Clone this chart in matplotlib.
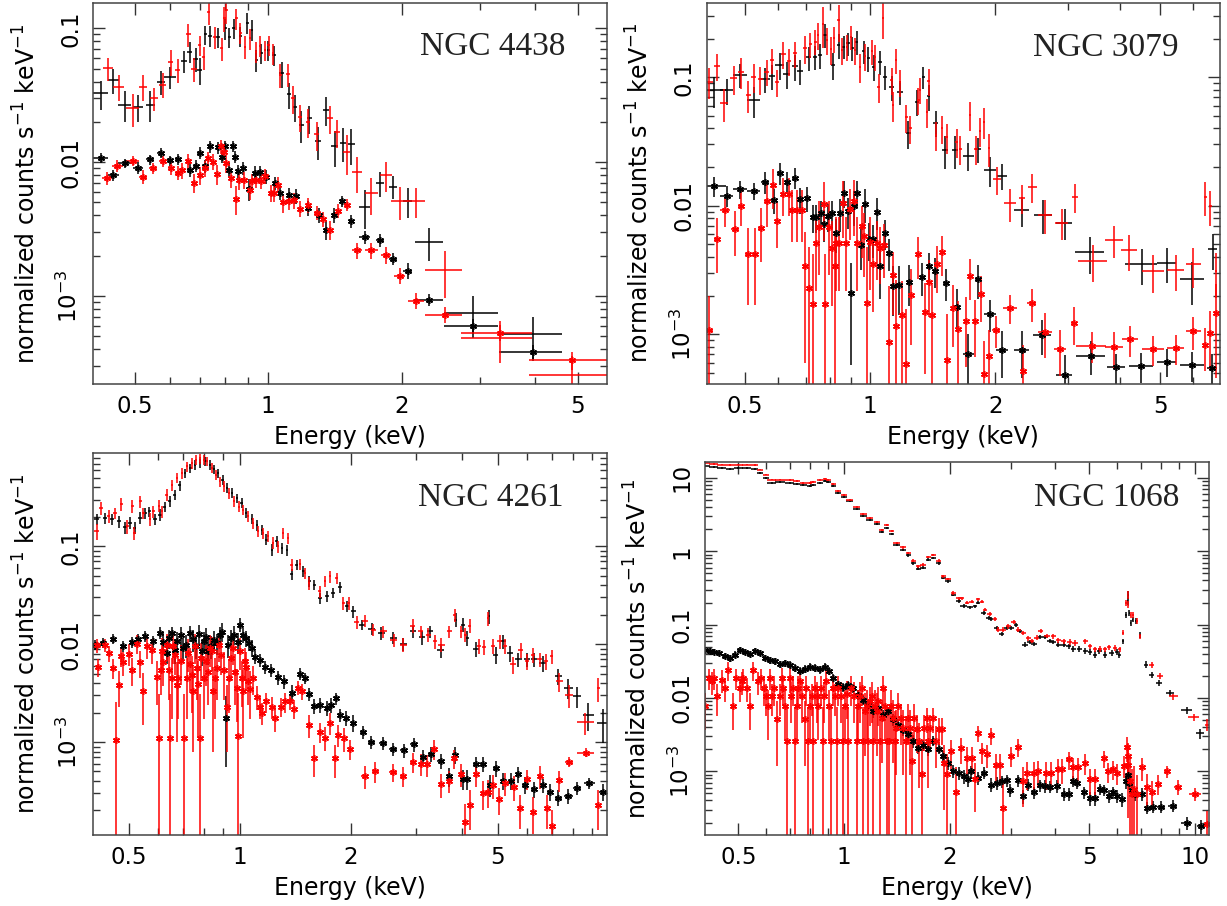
import numpy as np
import matplotlib
matplotlib.use("Agg")
import matplotlib.pyplot as plt
from matplotlib.ticker import FixedLocator, FixedFormatter, LogLocator, NullFormatter

plt.rcParams['font.family'] = 'DejaVu Sans'
plt.rcParams['mathtext.fontset'] = 'dejavusans'

# each row: energy (keV), half bin width, counts, error

# ---------------- NGC 4438 ----------------
n4438_src_blk = [
    [0.419, 0.016, 0.0327, 0.008], [0.447, 0.013, 0.0411, 0.009], [0.475, 0.016, 0.0268, 0.007],
    [0.509, 0.013, 0.0260, 0.006], [0.542, 0.013, 0.0268, 0.007], [0.572, 0.012, 0.0400, 0.008],
    [0.600, 0.018, 0.0435, 0.008], [0.646, 0.010, 0.0570, 0.011], [0.665, 0.008, 0.0670, 0.012],
    [0.686, 0.008, 0.0590, 0.012], [0.700, 0.010, 0.0490, 0.011], [0.722, 0.007, 0.0900, 0.015],
    [0.740, 0.008, 0.0880, 0.016], [0.771, 0.007, 0.0860, 0.015], [0.800, 0.006, 0.1000, 0.018],
    [0.817, 0.006, 0.0860, 0.015], [0.836, 0.006, 0.1000, 0.017], [0.866, 0.006, 0.0870, 0.015],
    [0.898, 0.006, 0.1100, 0.020], [0.920, 0.006, 0.0980, 0.017], [0.940, 0.008, 0.0580, 0.011],
    [0.966, 0.008, 0.0650, 0.011], [1.000, 0.008, 0.0690, 0.012], [1.032, 0.010, 0.0633, 0.011],
    [1.072, 0.012, 0.0461, 0.010], [1.115, 0.012, 0.0321, 0.007], [1.149, 0.012, 0.0260, 0.006],
    [1.189, 0.015, 0.0190, 0.005], [1.238, 0.015, 0.0213, 0.005], [1.297, 0.020, 0.0143, 0.004],
    [1.350, 0.020, 0.0245, 0.006], [1.414, 0.025, 0.0132, 0.004], [1.477, 0.025, 0.0140, 0.004],
    [1.542, 0.030, 0.0136, 0.004], [1.650, 0.045, 0.00466, 0.0015], [1.790, 0.040, 0.00696, 0.0015],
    [1.910, 0.040, 0.00657, 0.0013], [2.065, 0.045, 0.00510, 0.0013], [2.310, 0.170, 0.00252, 0.0007],
    [2.900, 0.410, 0.000745, 0.00026], [3.960, 0.640, 0.000519, 0.00018],
]
n4438_src_red = [
    [0.435, 0.011, 0.0502, 0.010], [0.460, 0.013, 0.0367, 0.008], [0.495, 0.017, 0.0253, 0.007],
    [0.522, 0.012, 0.0367, 0.008], [0.552, 0.012, 0.0300, 0.006], [0.578, 0.010, 0.0380, 0.008],
    [0.603, 0.008, 0.0564, 0.012], [0.625, 0.008, 0.0490, 0.010], [0.661, 0.007, 0.0900, 0.017],
    [0.681, 0.010, 0.0500, 0.010], [0.700, 0.007, 0.0751, 0.013], [0.716, 0.006, 0.0610, 0.012],
    [0.734, 0.005, 0.1318, 0.025], [0.758, 0.006, 0.0857, 0.016], [0.785, 0.006, 0.0710, 0.014],
    [0.797, 0.005, 0.1187, 0.025], [0.805, 0.005, 0.1370, 0.030], [0.848, 0.006, 0.1187, 0.022],
    [0.866, 0.006, 0.0930, 0.017], [0.886, 0.006, 0.0730, 0.014], [0.909, 0.006, 0.0843, 0.015],
    [0.940, 0.006, 0.0669, 0.012], [0.960, 0.006, 0.0740, 0.013], [0.983, 0.006, 0.0690, 0.012],
    [1.003, 0.007, 0.0750, 0.013], [1.026, 0.007, 0.0650, 0.012], [1.066, 0.010, 0.0450, 0.009],
    [1.109, 0.010, 0.0456, 0.009], [1.139, 0.012, 0.0300, 0.007], [1.179, 0.014, 0.0219, 0.005],
    [1.230, 0.015, 0.0201, 0.005], [1.286, 0.017, 0.0161, 0.004], [1.378, 0.020, 0.0213, 0.005],
    [1.431, 0.020, 0.0167, 0.004], [1.503, 0.025, 0.0120, 0.004], [1.585, 0.040, 0.0084, 0.0025],
    [1.710, 0.060, 0.00586, 0.0018], [1.845, 0.055, 0.0080, 0.0020], [1.980, 0.090, 0.0051, 0.0014],
    [2.160, 0.100, 0.0051, 0.0013], [2.505, 0.240, 0.00157, 0.0006], [3.330, 0.600, 0.000484, 0.00017],
    [4.840, 0.970, 0.000255, 0.00010],
]
n4438_bkg_blk = [
    [0.419, 0.016, 0.0108, 0.0010], [0.447, 0.013, 0.0080, 0.0008], [0.475, 0.016, 0.0098, 0.0008],
    [0.509, 0.013, 0.0091, 0.0009], [0.542, 0.012, 0.0105, 0.0009], [0.572, 0.010, 0.0118, 0.0010],
    [0.600, 0.010, 0.0103, 0.0009], [0.627, 0.010, 0.0105, 0.0010], [0.665, 0.008, 0.0088, 0.0010],
    [0.686, 0.008, 0.0094, 0.0010], [0.700, 0.008, 0.0118, 0.0012], [0.722, 0.007, 0.0093, 0.0010],
    [0.738, 0.006, 0.0131, 0.0013], [0.771, 0.006, 0.0129, 0.0013], [0.785, 0.006, 0.0110, 0.0012],
    [0.800, 0.006, 0.0131, 0.0013], [0.814, 0.006, 0.0088, 0.0010], [0.831, 0.006, 0.0132, 0.0013],
    [0.843, 0.006, 0.0110, 0.0012], [0.857, 0.006, 0.0086, 0.0010], [0.878, 0.006, 0.0090, 0.0010],
    [0.905, 0.006, 0.0063, 0.0012], [0.932, 0.007, 0.0083, 0.0010], [0.958, 0.007, 0.0084, 0.0009],
    [0.990, 0.008, 0.0078, 0.0009], [1.035, 0.009, 0.0070, 0.0008], [1.066, 0.009, 0.0059, 0.0007],
    [1.116, 0.010, 0.0057, 0.0007], [1.155, 0.010, 0.0056, 0.0007], [1.230, 0.012, 0.00453, 0.0006],
    [1.300, 0.014, 0.00403, 0.0005], [1.350, 0.015, 0.00312, 0.0005], [1.406, 0.015, 0.00403, 0.0005],
    [1.468, 0.018, 0.0051, 0.0005], [1.542, 0.020, 0.00364, 0.0004], [1.650, 0.045, 0.00275, 0.0003],
    [1.790, 0.040, 0.00262, 0.0003], [1.910, 0.040, 0.00189, 0.0002], [2.065, 0.045, 0.00155, 0.0002],
    [2.310, 0.170, 0.000935, 0.0001], [2.900, 0.410, 0.000598, 0.00008], [3.960, 0.640, 0.000379, 0.00005],
]
n4438_bkg_red = [
    [0.433, 0.012, 0.0076, 0.0009], [0.457, 0.013, 0.0094, 0.0009], [0.495, 0.016, 0.0102, 0.0009],
    [0.522, 0.011, 0.0078, 0.0009], [0.549, 0.011, 0.0090, 0.0009], [0.578, 0.010, 0.0102, 0.0010],
    [0.603, 0.008, 0.0090, 0.0010], [0.625, 0.008, 0.0083, 0.0010], [0.640, 0.007, 0.0087, 0.0012],
    [0.660, 0.007, 0.0102, 0.0013], [0.681, 0.008, 0.0070, 0.0011], [0.700, 0.007, 0.0080, 0.0012],
    [0.719, 0.006, 0.0090, 0.0012], [0.733, 0.006, 0.0107, 0.0013], [0.750, 0.006, 0.0101, 0.0014],
    [0.768, 0.006, 0.0082, 0.0014], [0.782, 0.005, 0.0131, 0.0016], [0.795, 0.005, 0.0120, 0.0016],
    [0.805, 0.005, 0.0098, 0.0015], [0.823, 0.005, 0.0076, 0.0012], [0.844, 0.005, 0.0053, 0.0013],
    [0.860, 0.006, 0.0074, 0.0012], [0.881, 0.006, 0.0074, 0.0011], [0.909, 0.006, 0.0062, 0.0010],
    [0.920, 0.006, 0.0072, 0.0010], [0.940, 0.006, 0.0074, 0.0010], [0.966, 0.007, 0.0072, 0.0009],
    [0.983, 0.007, 0.0079, 0.0010], [1.014, 0.008, 0.0059, 0.0009], [1.032, 0.008, 0.0059, 0.0009],
    [1.053, 0.009, 0.0068, 0.0009], [1.081, 0.010, 0.0050, 0.0008], [1.116, 0.010, 0.0051, 0.0007],
    [1.144, 0.010, 0.0052, 0.0007], [1.179, 0.012, 0.0045, 0.0006], [1.230, 0.013, 0.0048, 0.0006],
    [1.286, 0.014, 0.0042, 0.0005], [1.331, 0.015, 0.00375, 0.0005], [1.378, 0.016, 0.00312, 0.0005],
    [1.439, 0.018, 0.00433, 0.0005], [1.503, 0.020, 0.0048, 0.0005], [1.585, 0.040, 0.00219, 0.0003],
    [1.710, 0.060, 0.00219, 0.0003], [1.845, 0.050, 0.00203, 0.0003], [1.980, 0.060, 0.00142, 0.0002],
    [2.160, 0.090, 0.000925, 0.00013], [2.505, 0.240, 0.000723, 0.0001], [3.330, 0.600, 0.000533, 0.00007],
    [4.840, 0.970, 0.000330, 0.00005],
]

# ---------------- NGC 3079 ----------------
n3079_src_blk = [
    [0.420, 0.030, 0.0790, 0.021], [0.452, 0.016, 0.0790, 0.018], [0.486, 0.018, 0.1040, 0.022],
    [0.524, 0.020, 0.0665, 0.018], [0.559, 0.016, 0.0970, 0.022], [0.580, 0.010, 0.1020, 0.023],
    [0.605, 0.014, 0.1250, 0.030], [0.629, 0.012, 0.1060, 0.025], [0.660, 0.010, 0.1220, 0.028],
    [0.678, 0.010, 0.1120, 0.025], [0.711, 0.010, 0.1430, 0.030], [0.737, 0.008, 0.1450, 0.030],
    [0.758, 0.008, 0.1490, 0.032], [0.779, 0.008, 0.2140, 0.045], [0.813, 0.008, 0.1250, 0.030],
    [0.839, 0.008, 0.1780, 0.038], [0.863, 0.008, 0.1730, 0.035], [0.884, 0.008, 0.1840, 0.038],
    [0.905, 0.008, 0.1700, 0.035], [0.929, 0.008, 0.1900, 0.040], [0.964, 0.010, 0.1590, 0.033],
    [0.990, 0.010, 0.1410, 0.030], [1.019, 0.010, 0.1210, 0.027], [1.057, 0.012, 0.1325, 0.028],
    [1.087, 0.012, 0.1010, 0.022], [1.127, 0.015, 0.0837, 0.018], [1.181, 0.018, 0.0774, 0.017],
    [1.236, 0.018, 0.0366, 0.009], [1.296, 0.015, 0.0646, 0.015], [1.344, 0.012, 0.1010, 0.020],
    [1.382, 0.015, 0.0710, 0.016], [1.440, 0.020, 0.0444, 0.010], [1.516, 0.025, 0.0272, 0.008],
    [1.600, 0.030, 0.0272, 0.008], [1.725, 0.050, 0.0246, 0.006], [1.823, 0.030, 0.0277, 0.006],
    [1.945, 0.060, 0.0190, 0.005], [2.075, 0.060, 0.0172, 0.004], [2.318, 0.100, 0.0093, 0.0025],
    [2.614, 0.130, 0.0085, 0.0025], [2.940, 0.130, 0.0074, 0.0020], [3.390, 0.270, 0.00435, 0.0014],
    [4.510, 0.400, 0.00351, 0.0011], [5.180, 0.280, 0.00361, 0.0011], [5.960, 0.400, 0.00268, 0.0010],
    [6.680, 0.170, 0.00459, 0.0014],
]
n3079_src_red = [
    [0.410, 0.008, 0.0925, 0.025], [0.428, 0.008, 0.1230, 0.030], [0.444, 0.010, 0.0628, 0.018],
    [0.469, 0.010, 0.0980, 0.025], [0.489, 0.008, 0.1110, 0.030], [0.509, 0.008, 0.0730, 0.020],
    [0.524, 0.007, 0.1010, 0.025], [0.544, 0.007, 0.0970, 0.024], [0.564, 0.008, 0.1110, 0.025],
    [0.580, 0.006, 0.1360, 0.030], [0.597, 0.006, 0.0925, 0.022], [0.618, 0.008, 0.1520, 0.035],
    [0.636, 0.007, 0.1340, 0.032], [0.660, 0.008, 0.1540, 0.035], [0.696, 0.007, 0.1680, 0.040],
    [0.717, 0.006, 0.1810, 0.040], [0.737, 0.006, 0.1900, 0.042], [0.750, 0.005, 0.2140, 0.050],
    [0.770, 0.005, 0.2600, 0.090], [0.787, 0.005, 0.1950, 0.045], [0.805, 0.005, 0.1650, 0.040],
    [0.820, 0.005, 0.2010, 0.045], [0.839, 0.005, 0.2790, 0.090], [0.855, 0.005, 0.1640, 0.040],
    [0.879, 0.006, 0.1730, 0.040], [0.900, 0.006, 0.2070, 0.045], [0.920, 0.006, 0.1640, 0.040],
    [0.946, 0.006, 0.1210, 0.030], [0.973, 0.006, 0.1470, 0.035], [1.010, 0.007, 0.1590, 0.035],
    [1.028, 0.007, 0.1450, 0.032], [1.048, 0.007, 0.0846, 0.022], [1.073, 0.006, 0.2900, 0.090],
    [1.127, 0.008, 0.0954, 0.022], [1.134, 0.008, 0.0610, 0.016], [1.155, 0.008, 0.1360, 0.030],
    [1.181, 0.008, 0.0925, 0.022], [1.222, 0.008, 0.0489, 0.012], [1.250, 0.008, 0.0401, 0.010],
    [1.307, 0.008, 0.0667, 0.016], [1.320, 0.008, 0.0800, 0.018], [1.370, 0.008, 0.0540, 0.014],
    [1.382, 0.008, 0.0936, 0.022], [1.440, 0.010, 0.0356, 0.009], [1.488, 0.010, 0.0401, 0.010],
    [1.530, 0.012, 0.0345, 0.009], [1.615, 0.015, 0.0316, 0.008], [1.650, 0.010, 0.0277, 0.007],
    [1.740, 0.012, 0.0509, 0.013], [1.800, 0.020, 0.0277, 0.007], [1.840, 0.012, 0.0385, 0.010],
    [1.880, 0.010, 0.0452, 0.012], [1.930, 0.010, 0.0280, 0.008], [2.020, 0.045, 0.0161, 0.004],
    [2.173, 0.075, 0.0105, 0.003], [2.318, 0.040, 0.0116, 0.003], [2.460, 0.060, 0.0141, 0.0035],
    [2.640, 0.100, 0.0085, 0.0025], [2.894, 0.100, 0.0074, 0.0020], [3.116, 0.050, 0.0118, 0.0030],
    [3.440, 0.280, 0.00374, 0.0012], [3.870, 0.200, 0.00542, 0.0015], [4.210, 0.180, 0.00453, 0.0014],
    [4.810, 0.300, 0.00311, 0.0010], [5.450, 0.250, 0.00317, 0.0010], [6.000, 0.250, 0.00351, 0.0012],
    [6.410, 0.050, 0.0118, 0.0035], [6.590, 0.050, 0.00997, 0.003], [6.810, 0.050, 0.0031, 0.0012],
]
n3079_bkg_blk = [
    [0.420, 0.030, 0.0143, 0.0025], [0.452, 0.016, 0.0120, 0.0022], [0.486, 0.018, 0.0135, 0.0022],
    [0.524, 0.020, 0.0131, 0.0020], [0.559, 0.012, 0.0154, 0.0030], [0.585, 0.010, 0.0111, 0.0025],
    [0.607, 0.010, 0.0181, 0.0035], [0.632, 0.010, 0.0154, 0.0030], [0.658, 0.010, 0.0166, 0.0030],
    [0.678, 0.008, 0.0112, 0.0025], [0.704, 0.008, 0.0115, 0.0025], [0.727, 0.006, 0.00814, 0.002],
    [0.742, 0.006, 0.00814, 0.002], [0.760, 0.006, 0.00875, 0.0022], [0.776, 0.006, 0.0072, 0.002],
    [0.790, 0.006, 0.0083, 0.002], [0.808, 0.006, 0.00875, 0.0022], [0.828, 0.006, 0.0061, 0.0018],
    [0.847, 0.006, 0.0088, 0.0025], [0.866, 0.006, 0.0126, 0.003], [0.885, 0.006, 0.00906, 0.0025],
    [0.900, 0.006, 0.00208, 0.0015], [0.915, 0.006, 0.0100, 0.003], [0.932, 0.006, 0.0126, 0.003],
    [0.949, 0.006, 0.00495, 0.0018], [0.973, 0.006, 0.0104, 0.003], [0.996, 0.006, 0.0055, 0.0018],
    [1.015, 0.006, 0.0055, 0.0016], [1.037, 0.007, 0.0090, 0.0025], [1.057, 0.007, 0.00338, 0.0015],
    [1.087, 0.008, 0.0061, 0.0016], [1.113, 0.008, 0.0043, 0.0012], [1.138, 0.010, 0.00238, 0.0010],
    [1.176, 0.012, 0.0024, 0.0010], [1.243, 0.015, 0.00257, 0.0009], [1.332, 0.015, 0.0028, 0.0008],
    [1.382, 0.012, 0.0034, 0.0009], [1.434, 0.015, 0.0031, 0.0008], [1.520, 0.020, 0.0025, 0.0007],
    [1.615, 0.025, 0.00164, 0.0006], [1.725, 0.050, 0.000703, 0.0003], [1.823, 0.030, 0.00268, 0.0008],
    [1.945, 0.060, 0.00144, 0.0004], [2.080, 0.070, 0.000755, 0.0003], [2.318, 0.100, 0.000755, 0.0003],
    [2.600, 0.130, 0.000988, 0.0003], [2.940, 0.130, 0.000483, 0.0002], [3.410, 0.270, 0.000678, 0.0002],
    [3.910, 0.200, 0.000553, 0.00015], [4.490, 0.300, 0.000566, 0.00015], [5.180, 0.280, 0.000612, 0.00015],
    [5.960, 0.400, 0.000577, 0.00015], [6.660, 0.170, 0.000550, 0.00015],
]
n3079_bkg_red = [
    [0.410, 0.008, 0.00108, 0.0009], [0.428, 0.008, 0.00548, 0.0025], [0.448, 0.012, 0.00928, 0.0025],
    [0.472, 0.010, 0.00655, 0.0025], [0.489, 0.008, 0.0100, 0.003], [0.507, 0.008, 0.00418, 0.0025],
    [0.527, 0.008, 0.00418, 0.0025], [0.546, 0.008, 0.00668, 0.003], [0.564, 0.008, 0.0108, 0.004],
    [0.583, 0.006, 0.0145, 0.005], [0.598, 0.006, 0.00768, 0.003], [0.618, 0.008, 0.0124, 0.004],
    [0.636, 0.007, 0.0124, 0.004], [0.648, 0.006, 0.0092, 0.004], [0.668, 0.006, 0.0092, 0.004],
    [0.686, 0.006, 0.0092, 0.004], [0.698, 0.006, 0.0034, 0.0028], [0.714, 0.006, 0.00228, 0.0025],
    [0.730, 0.006, 0.00172, 0.0025], [0.741, 0.005, 0.00516, 0.003], [0.753, 0.005, 0.00688, 0.004],
    [0.772, 0.005, 0.0103, 0.005], [0.779, 0.005, 0.00172, 0.0025], [0.794, 0.005, 0.00688, 0.004],
    [0.808, 0.005, 0.00465, 0.003], [0.823, 0.005, 0.0034, 0.003], [0.826, 0.005, 0.00516, 0.003],
    [0.843, 0.005, 0.00516, 0.003], [0.859, 0.005, 0.0106, 0.005], [0.876, 0.005, 0.00516, 0.003],
    [0.892, 0.005, 0.00945, 0.004], [0.914, 0.005, 0.0108, 0.005], [0.930, 0.005, 0.00516, 0.003],
    [0.955, 0.006, 0.0069, 0.003], [0.964, 0.006, 0.00581, 0.003], [0.982, 0.006, 0.00174, 0.003],
    [1.000, 0.006, 0.0052, 0.003], [1.015, 0.006, 0.0035, 0.002], [1.037, 0.006, 0.00516, 0.0025],
    [1.057, 0.006, 0.00465, 0.0022], [1.080, 0.006, 0.00495, 0.0022], [1.107, 0.006, 0.000877, 0.0015],
    [1.132, 0.006, 0.0029, 0.0015], [1.155, 0.006, 0.00116, 0.0015], [1.192, 0.006, 0.00141, 0.0012],
    [1.222, 0.006, 0.000584, 0.001], [1.253, 0.008, 0.00202, 0.0012], [1.307, 0.008, 0.00418, 0.0015],
    [1.357, 0.008, 0.00149, 0.001], [1.388, 0.008, 0.00257, 0.0012], [1.407, 0.008, 0.00141, 0.001],
    [1.447, 0.008, 0.0035, 0.0014], [1.488, 0.008, 0.00435, 0.0015], [1.530, 0.008, 0.000631, 0.0008],
    [1.587, 0.010, 0.0016, 0.0008], [1.630, 0.010, 0.0011, 0.0007], [1.700, 0.010, 0.00126, 0.0007],
    [1.740, 0.012, 0.00284, 0.0010], [1.790, 0.012, 0.00126, 0.0006], [1.850, 0.012, 0.00204, 0.0008],
    [1.880, 0.010, 0.000487, 0.0004], [1.930, 0.015, 0.00068, 0.0004], [2.010, 0.045, 0.00108, 0.0003],
    [2.173, 0.080, 0.00161, 0.0004], [2.330, 0.020, 0.00052, 0.0003], [2.450, 0.060, 0.00175, 0.0005],
    [2.640, 0.100, 0.00105, 0.0004], [2.870, 0.100, 0.00077, 0.0003], [3.100, 0.050, 0.00123, 0.0004],
    [3.420, 0.280, 0.000817, 0.00022], [3.870, 0.200, 0.000795, 0.00025], [4.230, 0.180, 0.000919, 0.00025],
    [4.810, 0.300, 0.00077, 0.0002], [5.450, 0.250, 0.00078, 0.0002], [6.000, 0.250, 0.00106, 0.0003],
    [6.410, 0.050, 0.00082, 0.0003], [6.580, 0.050, 0.00103, 0.0005], [6.810, 0.050, 0.00146, 0.0010],
]

# ---------------- NGC 4261 ----------------
n4261_src_blk = [
    [0.409, 0.006, 0.190, 0.025], [0.430, 0.006, 0.193, 0.025], [0.449, 0.006, 0.190, 0.025],
    [0.470, 0.006, 0.180, 0.025], [0.488, 0.006, 0.157, 0.022], [0.502, 0.006, 0.173, 0.024],
    [0.518, 0.006, 0.154, 0.022], [0.536, 0.006, 0.196, 0.026], [0.553, 0.006, 0.219, 0.028],
    [0.568, 0.006, 0.227, 0.028], [0.588, 0.006, 0.190, 0.025], [0.607, 0.006, 0.210, 0.028],
    [0.626, 0.006, 0.254, 0.032], [0.645, 0.006, 0.288, 0.035], [0.666, 0.006, 0.337, 0.040],
    [0.687, 0.006, 0.420, 0.050], [0.709, 0.006, 0.561, 0.060], [0.733, 0.006, 0.631, 0.070],
    [0.755, 0.006, 0.680, 0.075], [0.779, 0.006, 0.705, 0.075], [0.804, 0.006, 0.739, 0.080],
    [0.829, 0.006, 0.680, 0.075], [0.850, 0.006, 0.610, 0.065], [0.873, 0.006, 0.561, 0.060],
    [0.897, 0.006, 0.479, 0.055], [0.920, 0.006, 0.394, 0.045], [0.949, 0.006, 0.350, 0.040],
    [0.980, 0.007, 0.310, 0.036], [1.010, 0.007, 0.280, 0.032], [1.040, 0.007, 0.219, 0.026],
    [1.075, 0.007, 0.190, 0.023], [1.110, 0.008, 0.165, 0.020], [1.145, 0.008, 0.147, 0.018],
    [1.180, 0.008, 0.117, 0.015], [1.220, 0.008, 0.092, 0.013], [1.257, 0.009, 0.112, 0.014],
    [1.300, 0.009, 0.096, 0.012], [1.340, 0.010, 0.092, 0.012], [1.380, 0.012, 0.052, 0.007],
    [1.425, 0.012, 0.065, 0.008], [1.485, 0.012, 0.0555, 0.007], [1.540, 0.015, 0.044, 0.006],
    [1.590, 0.015, 0.0405, 0.005], [1.650, 0.020, 0.0296, 0.004], [1.725, 0.020, 0.031, 0.004],
    [1.790, 0.020, 0.0335, 0.004], [1.866, 0.020, 0.038, 0.005], [1.947, 0.025, 0.0243, 0.003],
    [2.030, 0.030, 0.0216, 0.003], [2.140, 0.040, 0.0158, 0.002], [2.276, 0.050, 0.0143, 0.002],
    [2.420, 0.050, 0.0130, 0.002], [2.606, 0.060, 0.01156, 0.0016], [2.773, 0.060, 0.0101, 0.0015],
    [2.950, 0.050, 0.0135, 0.002], [3.110, 0.060, 0.0117, 0.0018], [3.270, 0.060, 0.0135, 0.002],
    [3.500, 0.080, 0.0087, 0.0014], [3.850, 0.040, 0.0178, 0.003], [4.030, 0.050, 0.0158, 0.0025],
    [4.140, 0.050, 0.0116, 0.002], [4.360, 0.080, 0.0089, 0.0015], [4.740, 0.040, 0.0192, 0.003],
    [4.940, 0.080, 0.0078, 0.0015], [5.180, 0.080, 0.0107, 0.0018], [5.400, 0.100, 0.0081, 0.0015],
    [5.690, 0.120, 0.0070, 0.0012], [6.000, 0.120, 0.0070, 0.0012], [6.270, 0.120, 0.0070, 0.0012],
    [6.620, 0.150, 0.00643, 0.0012], [7.300, 0.150, 0.00469, 0.0009], [7.780, 0.200, 0.00356, 0.0008],
    [8.190, 0.200, 0.00293, 0.0007], [8.800, 0.300, 0.0019, 0.0006], [9.640, 0.350, 0.00157, 0.0006],
]
n4261_src_red = [
    [0.409, 0.006, 0.142, 0.025], [0.420, 0.005, 0.246, 0.035], [0.440, 0.005, 0.204, 0.030],
    [0.458, 0.005, 0.219, 0.030], [0.477, 0.005, 0.270, 0.040], [0.495, 0.005, 0.160, 0.025],
    [0.510, 0.005, 0.259, 0.040], [0.517, 0.005, 0.137, 0.022], [0.536, 0.005, 0.288, 0.040],
    [0.547, 0.005, 0.219, 0.030], [0.570, 0.005, 0.190, 0.028], [0.582, 0.005, 0.228, 0.032],
    [0.603, 0.005, 0.260, 0.035], [0.614, 0.005, 0.228, 0.032], [0.633, 0.005, 0.337, 0.045],
    [0.653, 0.005, 0.420, 0.055], [0.675, 0.005, 0.500, 0.060], [0.696, 0.005, 0.561, 0.070],
    [0.717, 0.005, 0.655, 0.080], [0.740, 0.005, 0.705, 0.085], [0.760, 0.005, 0.760, 0.090],
    [0.779, 0.005, 0.790, 0.095], [0.800, 0.005, 0.760, 0.090], [0.816, 0.005, 0.739, 0.085],
    [0.838, 0.005, 0.631, 0.075], [0.860, 0.005, 0.540, 0.065], [0.880, 0.005, 0.461, 0.055],
    [0.903, 0.005, 0.410, 0.050], [0.936, 0.006, 0.350, 0.045], [0.963, 0.006, 0.288, 0.036],
    [0.992, 0.006, 0.255, 0.032], [1.021, 0.006, 0.237, 0.030], [1.053, 0.006, 0.204, 0.026],
    [1.087, 0.007, 0.173, 0.022], [1.121, 0.007, 0.142, 0.019], [1.157, 0.007, 0.137, 0.018],
    [1.194, 0.008, 0.126, 0.016], [1.231, 0.008, 0.108, 0.015], [1.270, 0.008, 0.100, 0.014],
    [1.311, 0.008, 0.137, 0.018], [1.352, 0.008, 0.1216, 0.016], [1.380, 0.010, 0.0649, 0.009],
    [1.455, 0.012, 0.066, 0.009], [1.500, 0.012, 0.0535, 0.007], [1.540, 0.012, 0.042, 0.006],
    [1.645, 0.015, 0.0347, 0.005], [1.700, 0.015, 0.044, 0.006], [1.754, 0.015, 0.0495, 0.007],
    [1.830, 0.020, 0.0474, 0.006], [1.907, 0.020, 0.0262, 0.004], [1.970, 0.020, 0.0262, 0.004],
    [2.073, 0.030, 0.0167, 0.0025], [2.180, 0.040, 0.0173, 0.0025], [2.300, 0.040, 0.0141, 0.002],
    [2.450, 0.050, 0.0135, 0.002], [2.610, 0.060, 0.0111, 0.0017], [2.770, 0.060, 0.0099, 0.0016],
    [2.940, 0.040, 0.0155, 0.0025], [3.090, 0.050, 0.0135, 0.002], [3.240, 0.050, 0.0125, 0.002],
    [3.380, 0.050, 0.0107, 0.0018], [3.520, 0.070, 0.0099, 0.0016], [3.700, 0.050, 0.0135, 0.002],
    [3.820, 0.030, 0.0197, 0.003], [3.980, 0.040, 0.0135, 0.002], [4.080, 0.040, 0.0125, 0.002],
    [4.200, 0.040, 0.0154, 0.0025], [4.450, 0.060, 0.0096, 0.0016], [4.600, 0.060, 0.0094, 0.0016],
    [4.720, 0.030, 0.0183, 0.003], [4.870, 0.060, 0.0096, 0.0016], [5.060, 0.070, 0.0107, 0.0018],
    [5.240, 0.070, 0.0096, 0.0016], [5.490, 0.100, 0.0062, 0.0012], [5.770, 0.080, 0.0088, 0.0015],
    [6.000, 0.080, 0.0067, 0.0012], [6.250, 0.080, 0.0078, 0.0014], [6.510, 0.100, 0.0070, 0.0012],
    [6.760, 0.100, 0.0067, 0.0012], [7.000, 0.080, 0.0075, 0.0013], [7.350, 0.150, 0.00417, 0.0009],
    [7.800, 0.200, 0.00305, 0.0008], [8.650, 0.450, 0.00159, 0.0004], [9.370, 0.100, 0.00356, 0.0010],
]
n4261_bkg_blk = [
    [0.405, 0.006, 0.0099, 0.0012], [0.426, 0.006, 0.0103, 0.0012], [0.453, 0.006, 0.0114, 0.0014],
    [0.483, 0.006, 0.0095, 0.0012], [0.508, 0.006, 0.0104, 0.0013], [0.530, 0.006, 0.0114, 0.0014],
    [0.553, 0.006, 0.0120, 0.0015], [0.582, 0.006, 0.0107, 0.0015], [0.607, 0.006, 0.0130, 0.0018],
    [0.620, 0.005, 0.0105, 0.0025], [0.633, 0.006, 0.0082, 0.0020], [0.640, 0.005, 0.0115, 0.0025],
    [0.653, 0.006, 0.0130, 0.0020], [0.665, 0.005, 0.0088, 0.0025], [0.675, 0.006, 0.0107, 0.0025],
    [0.690, 0.005, 0.0123, 0.0028], [0.700, 0.006, 0.0091, 0.0025], [0.715, 0.005, 0.0098, 0.0025],
    [0.733, 0.006, 0.0130, 0.0025], [0.745, 0.005, 0.0112, 0.0028], [0.760, 0.006, 0.0095, 0.0025],
    [0.775, 0.005, 0.0128, 0.0030], [0.790, 0.005, 0.0085, 0.0025], [0.800, 0.006, 0.0107, 0.0025],
    [0.810, 0.005, 0.0118, 0.0028], [0.820, 0.006, 0.0086, 0.0025], [0.835, 0.005, 0.0096, 0.0025],
    [0.850, 0.006, 0.0110, 0.0025], [0.865, 0.005, 0.0103, 0.0025], [0.880, 0.006, 0.0125, 0.0025],
    [0.895, 0.005, 0.0134, 0.0030], [0.916, 0.006, 0.00176, 0.0012], [0.930, 0.005, 0.0098, 0.0025],
    [0.948, 0.006, 0.0116, 0.0025], [0.965, 0.005, 0.0125, 0.0028], [0.985, 0.005, 0.0105, 0.0025],
    [1.000, 0.006, 0.0158, 0.0025], [1.020, 0.006, 0.0125, 0.0022], [1.040, 0.006, 0.0115, 0.0022],
    [1.060, 0.007, 0.0103, 0.0018], [1.080, 0.006, 0.0092, 0.0018],
    [1.098, 0.007, 0.0074, 0.0012], [1.130, 0.008, 0.00687, 0.0010], [1.170, 0.008, 0.0058, 0.0009],
    [1.210, 0.008, 0.0054, 0.0008], [1.270, 0.010, 0.00457, 0.0007], [1.320, 0.010, 0.00417, 0.0007],
    [1.380, 0.010, 0.0032, 0.0006], [1.455, 0.012, 0.0050, 0.0007], [1.500, 0.012, 0.0045, 0.0006],
    [1.540, 0.012, 0.0031, 0.0005], [1.590, 0.015, 0.00233, 0.0004], [1.650, 0.015, 0.0024, 0.0004],
    [1.720, 0.015, 0.00223, 0.0004], [1.770, 0.015, 0.0024, 0.0004], [1.820, 0.015, 0.0028, 0.0004],
    [1.870, 0.015, 0.0019, 0.0003], [1.940, 0.020, 0.00176, 0.0003], [2.030, 0.030, 0.00158, 0.0003],
    [2.150, 0.040, 0.00127, 0.0002], [2.270, 0.050, 0.00099, 0.00015], [2.440, 0.060, 0.00097, 0.00015],
    [2.600, 0.060, 0.00085, 0.00013], [2.780, 0.060, 0.00082, 0.00013], [2.960, 0.060, 0.00095, 0.00015],
    [3.140, 0.060, 0.00071, 0.00012], [3.300, 0.060, 0.00075, 0.00013], [3.500, 0.070, 0.00064, 0.00011],
    [3.700, 0.050, 0.000446, 0.0001], [3.840, 0.050, 0.00074, 0.00015], [4.030, 0.050, 0.00042, 0.0001],
    [4.140, 0.050, 0.00042, 0.0001], [4.360, 0.080, 0.00060, 0.00011], [4.570, 0.080, 0.00060, 0.00011],
    [4.760, 0.060, 0.000366, 0.00009], [4.940, 0.080, 0.00054, 0.0001], [5.180, 0.080, 0.00040, 0.00008],
    [5.430, 0.100, 0.00040, 0.00008], [5.690, 0.100, 0.00047, 0.00009], [5.930, 0.100, 0.000366, 0.00007],
    [6.270, 0.120, 0.00033, 0.00006], [6.620, 0.120, 0.00036, 0.00006], [6.930, 0.120, 0.00031, 0.00006],
    [7.300, 0.150, 0.00027, 0.00005], [7.780, 0.200, 0.00028, 0.00005], [8.220, 0.200, 0.00034, 0.00005],
    [8.860, 0.300, 0.00038, 0.00005], [9.670, 0.250, 0.00031, 0.00006],
]
n4261_bkg_red = [
    [0.409, 0.005, 0.0097, 0.0015], [0.413, 0.005, 0.0058, 0.0012], [0.430, 0.005, 0.0099, 0.0015],
    [0.440, 0.005, 0.0081, 0.0015], [0.453, 0.005, 0.0057, 0.0013], [0.460, 0.005, 0.00105, 0.0015],
    [0.470, 0.005, 0.0038, 0.0015], [0.477, 0.005, 0.0076, 0.0018], [0.483, 0.005, 0.0065, 0.0018],
    [0.500, 0.005, 0.0080, 0.0020], [0.510, 0.005, 0.0055, 0.0018], [0.525, 0.005, 0.0101, 0.0022],
    [0.535, 0.005, 0.0065, 0.0020], [0.547, 0.005, 0.0033, 0.0018], [0.560, 0.005, 0.0095, 0.0025],
    [0.577, 0.005, 0.0088, 0.0025], [0.597, 0.005, 0.0046, 0.0022], [0.603, 0.005, 0.0011, 0.0020],
    [0.609, 0.005, 0.0055, 0.0025], [0.615, 0.004, 0.0085, 0.0030], [0.620, 0.005, 0.0065, 0.0028],
    [0.635, 0.005, 0.0097, 0.0030], [0.640, 0.004, 0.0055, 0.0028], [0.645, 0.005, 0.0011, 0.0020],
    [0.653, 0.005, 0.0045, 0.0028], [0.660, 0.004, 0.0095, 0.0032], [0.665, 0.005, 0.0078, 0.0030],
    [0.675, 0.004, 0.0038, 0.0028], [0.680, 0.005, 0.0045, 0.0028], [0.690, 0.004, 0.0068, 0.0030],
    [0.706, 0.005, 0.0011, 0.0020], [0.717, 0.005, 0.0045, 0.0028], [0.725, 0.004, 0.0082, 0.0030],
    [0.733, 0.005, 0.0062, 0.0030], [0.740, 0.004, 0.0048, 0.0028], [0.746, 0.005, 0.0033, 0.0025],
    [0.755, 0.004, 0.0095, 0.0032], [0.763, 0.005, 0.0057, 0.0030], [0.770, 0.004, 0.0039, 0.0028],
    [0.779, 0.005, 0.0011, 0.0020], [0.785, 0.004, 0.0072, 0.0030], [0.797, 0.005, 0.0045, 0.0028],
    [0.810, 0.005, 0.0067, 0.0030], [0.820, 0.004, 0.0052, 0.0028], [0.829, 0.005, 0.0091, 0.0032],
    [0.840, 0.004, 0.0085, 0.0032], [0.847, 0.005, 0.0033, 0.0025], [0.855, 0.004, 0.0045, 0.0028],
    [0.865, 0.005, 0.0057, 0.0030], [0.875, 0.004, 0.0098, 0.0032], [0.891, 0.005, 0.0078, 0.0030],
    [0.905, 0.004, 0.0055, 0.0028], [0.920, 0.005, 0.0023, 0.0015], [0.935, 0.005, 0.0045, 0.0025],
    [0.945, 0.004, 0.0072, 0.0030], [0.960, 0.005, 0.0091, 0.0030], [0.970, 0.004, 0.0052, 0.0028],
    [0.980, 0.005, 0.0036, 0.0020], [0.990, 0.005, 0.00115, 0.0020], [1.000, 0.004, 0.0085, 0.0030],
    [1.010, 0.006, 0.0045, 0.0022], [1.020, 0.004, 0.0033, 0.0022], [1.030, 0.006, 0.0067, 0.0025],
    [1.040, 0.004, 0.0058, 0.0025], [1.050, 0.006, 0.0042, 0.0018], [1.065, 0.005, 0.0035, 0.0018],
    [1.087, 0.006, 0.0045, 0.0015], [1.110, 0.007, 0.0029, 0.0008], [1.133, 0.007, 0.0023, 0.0006],
    [1.145, 0.007, 0.0020, 0.0005], [1.180, 0.008, 0.0026, 0.0006], [1.220, 0.008, 0.0023, 0.0006],
    [1.244, 0.008, 0.00177, 0.0005], [1.290, 0.008, 0.0023, 0.0005], [1.325, 0.008, 0.0026, 0.0006],
    [1.366, 0.010, 0.0026, 0.0005], [1.400, 0.010, 0.0022, 0.0005], [1.440, 0.010, 0.0036, 0.0006],
    [1.470, 0.010, 0.0033, 0.0006], [1.540, 0.012, 0.0015, 0.0004], [1.590, 0.012, 0.00069, 0.00025],
    [1.645, 0.012, 0.00128, 0.0003], [1.700, 0.015, 0.00111, 0.0003], [1.754, 0.015, 0.00157, 0.0004],
    [1.810, 0.015, 0.00068, 0.00025], [1.850, 0.015, 0.00118, 0.0003], [1.915, 0.015, 0.0011, 0.0003],
    [1.990, 0.020, 0.00085, 0.0002], [2.180, 0.050, 0.00045, 0.00012], [2.330, 0.050, 0.00050, 0.00012],
    [2.600, 0.070, 0.00049, 0.0001], [2.770, 0.050, 0.00045, 0.0001], [2.940, 0.040, 0.00063, 0.00015],
    [3.090, 0.040, 0.00060, 0.00015], [3.220, 0.040, 0.00059, 0.00015], [3.360, 0.040, 0.00085, 0.0002],
    [3.520, 0.050, 0.00037, 0.0001], [3.700, 0.050, 0.00040, 0.0001], [3.810, 0.040, 0.00068, 0.00015],
    [3.970, 0.040, 0.00047, 0.00012], [4.080, 0.040, 0.000154, 0.00008], [4.200, 0.040, 0.000225, 0.0001],
    [4.360, 0.050, 0.00047, 0.00012], [4.560, 0.050, 0.00030, 0.0001], [4.700, 0.040, 0.00031, 0.0001],
    [4.870, 0.060, 0.00036, 0.0001], [5.050, 0.060, 0.00026, 0.00008], [5.240, 0.060, 0.00038, 0.0001],
    [5.520, 0.080, 0.00035, 0.0001], [5.750, 0.080, 0.00021, 0.00008], [6.020, 0.080, 0.00042, 0.0001],
    [6.250, 0.080, 0.000195, 0.00008], [6.500, 0.080, 0.00045, 0.00012], [6.800, 0.080, 0.00021, 0.00008],
    [7.030, 0.080, 0.00014, 0.00006], [7.350, 0.120, 0.00041, 0.0001], [7.800, 0.200, 0.00063, 0.00008],
    [8.670, 0.450, 0.00078, 0.00008], [9.370, 0.100, 0.000225, 0.0001],
]

# ---------------- NGC 1068 ----------------
n1068_src_blk = [
    [0.402, 0.012, 14.4, 0.4], [0.425, 0.012, 14.1, 0.4], [0.448, 0.013, 13.7, 0.4],
    [0.4735, 0.013, 13.4, 0.4], [0.500, 0.014, 13.7, 0.4], [0.528, 0.015, 13.7, 0.4],
    [0.5575, 0.013, 13.3, 0.4], [0.576, 0.012, 11.7, 0.35], [0.600, 0.012, 10.0, 0.3],
    [0.622, 0.018, 8.55, 0.25], [0.657, 0.022, 8.73, 0.25], [0.700, 0.021, 8.55, 0.25],
    [0.733, 0.017, 8.28, 0.25], [0.766, 0.017, 7.90, 0.25], [0.800, 0.013, 7.70, 0.25],
    [0.818, 0.016, 7.90, 0.25], [0.855, 0.017, 8.55, 0.25], [0.883, 0.012, 9.00, 0.25],
    [0.902, 0.016, 8.73, 0.25], [0.932, 0.016, 7.70, 0.22], [0.963, 0.019, 6.24, 0.2],
    [1.000, 0.020, 5.45, 0.18], [1.040, 0.024, 4.81, 0.16], [1.087, 0.024, 3.80, 0.13],
    [1.135, 0.026, 3.00, 0.11], [1.186, 0.027, 2.70, 0.1], [1.239, 0.025, 2.36, 0.09],
    [1.280, 0.022, 1.83, 0.07], [1.323, 0.022, 2.08, 0.08], [1.367, 0.025, 1.72, 0.07],
    [1.412, 0.033, 1.23, 0.05], [1.476, 0.028, 1.05, 0.04], [1.525, 0.026, 0.88, 0.035],
    [1.576, 0.027, 0.69, 0.03], [1.628, 0.025, 0.58, 0.025], [1.675, 0.033, 0.60, 0.025],
    [1.740, 0.030, 0.77, 0.03], [1.797, 0.032, 0.81, 0.03], [1.860, 0.031, 0.69, 0.03],
    [1.919, 0.031, 0.433, 0.02], [1.980, 0.035, 0.39, 0.018], [2.050, 0.036, 0.257, 0.013],
    [2.120, 0.036, 0.21, 0.011], [2.190, 0.045, 0.18, 0.01], [2.285, 0.040, 0.172, 0.01],
    [2.360, 0.030, 0.177, 0.01], [2.410, 0.030, 0.200, 0.011], [2.500, 0.040, 0.145, 0.009],
    [2.580, 0.040, 0.123, 0.008], [2.630, 0.030, 0.121, 0.008], [2.720, 0.040, 0.090, 0.006],
    [2.810, 0.050, 0.0746, 0.005], [2.910, 0.050, 0.090, 0.006], [3.000, 0.050, 0.090, 0.006],
    [3.090, 0.050, 0.100, 0.006], [3.170, 0.050, 0.0828, 0.005], [3.280, 0.060, 0.0533, 0.004],
    [3.390, 0.060, 0.058, 0.004], [3.480, 0.060, 0.0545, 0.004], [3.620, 0.060, 0.068, 0.004],
    [3.740, 0.060, 0.0675, 0.004], [3.850, 0.060, 0.0593, 0.004], [3.950, 0.060, 0.058, 0.004],
    [4.080, 0.070, 0.0533, 0.004], [4.220, 0.070, 0.0533, 0.004], [4.360, 0.070, 0.0505, 0.004],
    [4.500, 0.070, 0.0468, 0.004], [4.680, 0.080, 0.0468, 0.004], [4.860, 0.080, 0.0433, 0.004],
    [5.020, 0.080, 0.0423, 0.004], [5.190, 0.080, 0.039, 0.004], [5.340, 0.080, 0.0442, 0.004],
    [5.540, 0.090, 0.039, 0.004], [5.790, 0.090, 0.041, 0.004], [5.980, 0.060, 0.0423, 0.004],
    [6.090, 0.050, 0.039, 0.004], [6.250, 0.040, 0.0593, 0.005], [6.350, 0.030, 0.137, 0.012],
    [6.420, 0.030, 0.208, 0.02], [6.460, 0.020, 0.256, 0.03], [6.500, 0.020, 0.145, 0.015],
    [6.560, 0.030, 0.105, 0.01], [6.640, 0.030, 0.117, 0.01], [6.800, 0.040, 0.113, 0.01],
    [6.970, 0.060, 0.073, 0.007], [7.240, 0.080, 0.0285, 0.003], [7.530, 0.120, 0.0208, 0.002],
    [7.900, 0.150, 0.0162, 0.0015], [8.490, 0.200, 0.0118, 0.0012], [9.470, 0.350, 0.0068, 0.0008],
    [10.33, 0.300, 0.0033, 0.0005],
]
n1068_src_red = [
    [0.402, 0.012, 16.0, 0.4], [0.425, 0.012, 15.5, 0.4], [0.448, 0.013, 15.2, 0.4],
    [0.4735, 0.013, 14.9, 0.4], [0.500, 0.014, 15.2, 0.4], [0.528, 0.015, 15.2, 0.4],
    [0.5575, 0.013, 14.9, 0.4], [0.576, 0.012, 13.0, 0.35], [0.600, 0.012, 11.1, 0.3],
    [0.622, 0.018, 9.5, 0.25], [0.657, 0.022, 9.5, 0.25], [0.700, 0.021, 9.3, 0.25],
    [0.733, 0.017, 9.0, 0.25], [0.766, 0.017, 8.6, 0.25], [0.800, 0.013, 8.45, 0.25],
    [0.818, 0.016, 8.73, 0.25], [0.855, 0.017, 9.3, 0.25], [0.883, 0.012, 9.7, 0.25],
    [0.902, 0.016, 9.4, 0.25], [0.932, 0.016, 8.28, 0.22], [0.963, 0.019, 6.72, 0.2],
    [1.000, 0.020, 5.80, 0.18], [1.040, 0.024, 5.06, 0.16], [1.087, 0.024, 3.99, 0.13],
    [1.135, 0.026, 3.23, 0.11], [1.186, 0.027, 2.85, 0.1], [1.239, 0.025, 2.51, 0.09],
    [1.280, 0.022, 1.97, 0.07], [1.323, 0.022, 2.26, 0.08], [1.367, 0.025, 1.88, 0.07],
    [1.412, 0.033, 1.30, 0.05], [1.476, 0.028, 1.13, 0.04], [1.525, 0.026, 0.95, 0.035],
    [1.576, 0.027, 0.745, 0.03], [1.628, 0.025, 0.625, 0.025], [1.675, 0.033, 0.66, 0.025],
    [1.740, 0.030, 0.83, 0.03], [1.797, 0.032, 0.88, 0.03], [1.860, 0.031, 0.745, 0.03],
    [1.919, 0.031, 0.458, 0.02], [1.980, 0.035, 0.42, 0.018], [2.050, 0.036, 0.27, 0.013],
    [2.120, 0.036, 0.23, 0.011], [2.170, 0.030, 0.228, 0.011], [2.240, 0.035, 0.20, 0.01],
    [2.310, 0.035, 0.205, 0.01], [2.410, 0.030, 0.22, 0.011], [2.470, 0.030, 0.205, 0.01],
    [2.520, 0.030, 0.16, 0.009], [2.600, 0.040, 0.139, 0.008], [2.690, 0.040, 0.121, 0.008],
    [2.750, 0.040, 0.0856, 0.006], [2.840, 0.050, 0.0856, 0.006], [2.940, 0.050, 0.0945, 0.006],
    [3.040, 0.050, 0.110, 0.007], [3.140, 0.050, 0.0856, 0.006], [3.240, 0.050, 0.0775, 0.005],
    [3.350, 0.050, 0.0647, 0.005], [3.430, 0.050, 0.0593, 0.004], [3.540, 0.060, 0.0667, 0.005],
    [3.630, 0.060, 0.0813, 0.005], [3.780, 0.070, 0.0706, 0.005], [3.950, 0.070, 0.069, 0.005],
    [4.080, 0.070, 0.061, 0.005], [4.220, 0.070, 0.0593, 0.005], [4.390, 0.080, 0.058, 0.005],
    [4.550, 0.080, 0.0564, 0.005], [4.860, 0.080, 0.0593, 0.005], [5.020, 0.080, 0.0505, 0.004],
    [5.190, 0.080, 0.0462, 0.004], [5.360, 0.080, 0.0468, 0.004], [5.540, 0.080, 0.0458, 0.004],
    [5.700, 0.080, 0.049, 0.004], [5.920, 0.090, 0.048, 0.004], [6.110, 0.060, 0.0458, 0.004],
    [6.250, 0.040, 0.0772, 0.006], [6.360, 0.030, 0.198, 0.02], [6.440, 0.020, 0.256, 0.03],
    [6.460, 0.020, 0.187, 0.02], [6.560, 0.030, 0.137, 0.012], [6.670, 0.040, 0.137, 0.012],
    [6.820, 0.040, 0.112, 0.01], [6.970, 0.060, 0.069, 0.006], [7.530, 0.120, 0.028, 0.0025],
    [7.930, 0.150, 0.020, 0.002], [8.680, 0.250, 0.0105, 0.001], [9.900, 0.350, 0.0055, 0.0006],
    [10.80, 0.150, 0.0043, 0.0008],
]
n1068_bkg_blk = [
    [0.402, 0.007, 0.0455, 0.004], [0.414, 0.007, 0.0440, 0.004], [0.426, 0.007, 0.0425, 0.004],
    [0.440, 0.007, 0.0415, 0.004], [0.458, 0.008, 0.0375, 0.004], [0.4735, 0.008, 0.0350, 0.004],
    [0.488, 0.008, 0.0390, 0.004], [0.505, 0.008, 0.0455, 0.004], [0.522, 0.008, 0.0425, 0.004],
    [0.540, 0.008, 0.0398, 0.004], [0.5575, 0.008, 0.0433, 0.004], [0.576, 0.009, 0.0415, 0.004],
    [0.597, 0.009, 0.0351, 0.0035], [0.615, 0.009, 0.0325, 0.0035], [0.636, 0.010, 0.0316, 0.0035],
    [0.657, 0.010, 0.0290, 0.003], [0.679, 0.010, 0.0298, 0.003], [0.700, 0.011, 0.0285, 0.003],
    [0.725, 0.012, 0.0257, 0.003], [0.750, 0.012, 0.0236, 0.003], [0.774, 0.012, 0.0250, 0.003],
    [0.800, 0.013, 0.0268, 0.003], [0.827, 0.013, 0.0257, 0.003], [0.855, 0.013, 0.0245, 0.003],
    [0.883, 0.012, 0.0268, 0.003], [0.908, 0.012, 0.0236, 0.003], [0.932, 0.014, 0.0187, 0.0025],
    [0.963, 0.015, 0.0153, 0.002], [0.996, 0.016, 0.0141, 0.002], [1.030, 0.016, 0.0149, 0.002],
    [1.063, 0.017, 0.0136, 0.002], [1.098, 0.018, 0.0111, 0.0018], [1.135, 0.018, 0.0094, 0.0015],
    [1.173, 0.019, 0.0080, 0.0013], [1.212, 0.020, 0.0066, 0.0012], [1.253, 0.020, 0.0073, 0.0012],
    [1.294, 0.022, 0.0059, 0.001], [1.338, 0.022, 0.0066, 0.001], [1.382, 0.023, 0.0051, 0.0009],
    [1.428, 0.024, 0.0043, 0.0008], [1.476, 0.025, 0.0037, 0.0007], [1.525, 0.025, 0.0032, 0.0006],
    [1.576, 0.026, 0.0026, 0.0005], [1.628, 0.027, 0.0021, 0.0004], [1.683, 0.028, 0.0023, 0.0004],
    [1.740, 0.029, 0.00203, 0.0004], [1.797, 0.030, 0.0026, 0.0004], [1.860, 0.030, 0.00203, 0.0003],
    [1.919, 0.032, 0.0016, 0.0003], [1.980, 0.034, 0.0013, 0.00025], [2.050, 0.035, 0.00102, 0.0002],
    [2.120, 0.035, 0.00096, 0.0002], [2.190, 0.035, 0.00086, 0.00018], [2.260, 0.035, 0.00078, 0.00016],
    [2.300, 0.040, 0.0010, 0.0002], [2.410, 0.040, 0.00081, 0.00016], [2.500, 0.040, 0.00096, 0.00018],
    [2.630, 0.040, 0.00066, 0.00014], [2.720, 0.040, 0.00070, 0.00014], [2.810, 0.040, 0.00073, 0.00014],
    [2.910, 0.040, 0.00076, 0.00014], [2.980, 0.040, 0.00056, 0.00012], [3.140, 0.050, 0.00075, 0.00014],
    [3.240, 0.050, 0.00046, 0.0001], [3.350, 0.050, 0.00066, 0.00012], [3.480, 0.060, 0.00052, 0.0001],
    [3.620, 0.060, 0.00065, 0.00012], [3.740, 0.060, 0.00063, 0.00012], [3.860, 0.060, 0.00062, 0.00012],
    [4.050, 0.070, 0.00063, 0.00012], [4.220, 0.070, 0.00049, 0.0001], [4.360, 0.070, 0.00049, 0.0001],
    [4.500, 0.070, 0.00073, 0.00012], [4.600, 0.070, 0.00070, 0.00012], [4.830, 0.080, 0.00052, 0.0001],
    [5.020, 0.080, 0.00043, 0.00009], [5.190, 0.080, 0.00043, 0.00009], [5.360, 0.080, 0.00057, 0.0001],
    [5.520, 0.080, 0.00056, 0.0001], [5.700, 0.080, 0.00046, 0.00009], [5.850, 0.080, 0.00052, 0.0001],
    [6.000, 0.080, 0.00046, 0.00009], [6.180, 0.060, 0.00042, 0.00009], [6.350, 0.030, 0.00073, 0.00015],
    [6.420, 0.030, 0.00089, 0.0002], [6.480, 0.030, 0.00070, 0.00015], [6.600, 0.040, 0.00056, 0.00012],
    [6.750, 0.050, 0.00049, 0.0001], [7.050, 0.080, 0.00049, 0.0001], [7.280, 0.100, 0.00032, 0.00006],
    [7.570, 0.120, 0.00033, 0.00006], [8.000, 0.200, 0.00033, 0.00006], [8.640, 0.250, 0.00034, 0.00006],
    [9.470, 0.350, 0.00020, 0.00004], [10.40, 0.300, 0.00018, 0.00004],
]
n1068_bkg_red = [
    [0.402, 0.005, 0.0077, 0.004], [0.412, 0.005, 0.0187, 0.006], [0.420, 0.005, 0.0169, 0.006],
    [0.427, 0.005, 0.0187, 0.006], [0.436, 0.005, 0.0106, 0.005], [0.448, 0.005, 0.0178, 0.006],
    [0.457, 0.005, 0.0137, 0.005], [0.468, 0.005, 0.0239, 0.007], [0.483, 0.005, 0.0077, 0.004],
    [0.494, 0.005, 0.0187, 0.006], [0.505, 0.005, 0.0137, 0.005], [0.511, 0.004, 0.0169, 0.006],
    [0.517, 0.005, 0.0187, 0.006], [0.528, 0.005, 0.0137, 0.005], [0.540, 0.005, 0.0077, 0.004],
    [0.552, 0.005, 0.0239, 0.007], [0.570, 0.005, 0.0169, 0.006], [0.582, 0.005, 0.0187, 0.006],
    [0.590, 0.004, 0.0137, 0.006], [0.600, 0.005, 0.0106, 0.005], [0.608, 0.004, 0.0077, 0.005],
    [0.615, 0.006, 0.0187, 0.006], [0.622, 0.004, 0.0106, 0.005], [0.630, 0.006, 0.0137, 0.006],
    [0.643, 0.006, 0.0052, 0.004], [0.657, 0.006, 0.0106, 0.005], [0.665, 0.004, 0.0187, 0.007],
    [0.672, 0.006, 0.0137, 0.006], [0.680, 0.004, 0.0077, 0.005], [0.690, 0.006, 0.0026, 0.005],
    [0.700, 0.006, 0.0187, 0.007], [0.708, 0.004, 0.0106, 0.006], [0.716, 0.006, 0.0137, 0.006],
    [0.725, 0.004, 0.0026, 0.005], [0.733, 0.006, 0.0077, 0.005], [0.742, 0.004, 0.0137, 0.006],
    [0.750, 0.006, 0.0169, 0.007], [0.760, 0.005, 0.0106, 0.006], [0.774, 0.007, 0.0052, 0.004],
    [0.782, 0.005, 0.0137, 0.006], [0.790, 0.007, 0.0026, 0.005], [0.800, 0.005, 0.0077, 0.005],
    [0.810, 0.007, 0.0106, 0.005], [0.818, 0.005, 0.0026, 0.005], [0.827, 0.007, 0.0137, 0.006],
    [0.836, 0.005, 0.0106, 0.006], [0.845, 0.007, 0.0077, 0.005], [0.858, 0.005, 0.0137, 0.006],
    [0.873, 0.008, 0.0026, 0.005], [0.880, 0.005, 0.0106, 0.006], [0.890, 0.008, 0.0169, 0.007],
    [0.905, 0.005, 0.0077, 0.005], [0.920, 0.008, 0.0026, 0.005], [0.930, 0.005, 0.0137, 0.006],
    [0.943, 0.008, 0.0106, 0.005], [0.953, 0.005, 0.0026, 0.005], [0.963, 0.008, 0.0137, 0.006],
    [0.980, 0.006, 0.0106, 0.006], [0.995, 0.009, 0.0026, 0.005], [1.005, 0.006, 0.0077, 0.005],
    [1.017, 0.009, 0.0112, 0.006], [1.030, 0.006, 0.0026, 0.005], [1.050, 0.009, 0.0137, 0.006],
    [1.070, 0.007, 0.0106, 0.006], [1.087, 0.010, 0.0026, 0.005], [1.098, 0.007, 0.0077, 0.005],
    [1.110, 0.010, 0.0106, 0.006], [1.122, 0.007, 0.0137, 0.006], [1.135, 0.010, 0.0026, 0.005],
    [1.148, 0.007, 0.0066, 0.005], [1.160, 0.010, 0.0077, 0.005], [1.173, 0.007, 0.0026, 0.005],
    [1.186, 0.010, 0.0092, 0.005], [1.200, 0.008, 0.0106, 0.006], [1.212, 0.010, 0.0026, 0.005],
    [1.225, 0.008, 0.0077, 0.005], [1.239, 0.011, 0.0066, 0.005], [1.253, 0.008, 0.0092, 0.005],
    [1.266, 0.011, 0.0026, 0.005], [1.280, 0.008, 0.0053, 0.004], [1.294, 0.012, 0.0137, 0.006],
    [1.310, 0.008, 0.0077, 0.005], [1.323, 0.012, 0.0026, 0.005], [1.340, 0.009, 0.0026, 0.005],
    [1.358, 0.012, 0.0077, 0.005], [1.375, 0.009, 0.0053, 0.004], [1.396, 0.013, 0.0026, 0.004],
    [1.410, 0.009, 0.0039, 0.003], [1.428, 0.013, 0.0077, 0.004], [1.450, 0.010, 0.0053, 0.003],
    [1.476, 0.014, 0.0039, 0.003], [1.500, 0.010, 0.0026, 0.003], [1.525, 0.014, 0.0053, 0.003],
    [1.540, 0.010, 0.0039, 0.003], [1.560, 0.014, 0.0014, 0.002], [1.585, 0.010, 0.0053, 0.003],
    [1.610, 0.015, 0.0038, 0.002], [1.635, 0.010, 0.0026, 0.002], [1.665, 0.015, 0.00093, 0.0012],
    [1.690, 0.010, 0.0039, 0.002], [1.720, 0.015, 0.0053, 0.002], [1.740, 0.010, 0.0026, 0.002],
    [1.757, 0.015, 0.0039, 0.002], [1.797, 0.016, 0.0053, 0.002], [1.830, 0.012, 0.0026, 0.0015],
    [1.860, 0.016, 0.0038, 0.0015], [1.900, 0.016, 0.0038, 0.0015], [1.930, 0.012, 0.0013, 0.0010],
    [1.960, 0.017, 0.00093, 0.0008], [2.020, 0.018, 0.00187, 0.0008],
    [2.080, 0.018, 0.00053, 0.0006], [2.160, 0.020, 0.00205, 0.0008], [2.240, 0.020, 0.00152, 0.0006],
    [2.310, 0.020, 0.00152, 0.0006], [2.360, 0.020, 0.00078, 0.0005], [2.410, 0.020, 0.0033, 0.0008],
    [2.470, 0.020, 0.00187, 0.0006], [2.550, 0.025, 0.0017, 0.0006], [2.620, 0.025, 0.0031, 0.0008],
    [2.710, 0.030, 0.00123, 0.0005], [2.780, 0.030, 0.00123, 0.0005], [2.840, 0.030, 0.00032, 0.0004],
    [3.000, 0.040, 0.00164, 0.0005], [3.140, 0.040, 0.00215, 0.0006], [3.230, 0.040, 0.00073, 0.0004],
    [3.320, 0.040, 0.00096, 0.0004], [3.470, 0.050, 0.00096, 0.0004], [3.580, 0.050, 0.0010, 0.0004],
    [3.760, 0.050, 0.00096, 0.0004], [3.880, 0.050, 0.00096, 0.0004], [4.080, 0.050, 0.00107, 0.0004],
    [4.170, 0.050, 0.00107, 0.0004], [4.360, 0.060, 0.00145, 0.0004], [4.500, 0.060, 0.00113, 0.0004],
    [4.630, 0.060, 0.00114, 0.0004], [4.860, 0.070, 0.0013, 0.0004], [5.020, 0.070, 0.00078, 0.0003],
    [5.190, 0.070, 0.00078, 0.0003], [5.520, 0.070, 0.00152, 0.0004], [5.660, 0.070, 0.0010, 0.0003],
    [5.820, 0.070, 0.00107, 0.0003], [5.980, 0.070, 0.00096, 0.0003], [6.270, 0.040, 0.0012, 0.0004],
    [6.390, 0.020, 0.00215, 0.0008], [6.430, 0.020, 0.0016, 0.0008], [6.460, 0.020, 0.00123, 0.001],
    [6.530, 0.020, 0.00073, 0.0008], [6.600, 0.030, 0.00049, 0.0006], [6.690, 0.030, 0.00058, 0.0006],
    [6.820, 0.040, 0.00049, 0.0004], [7.050, 0.060, 0.00113, 0.0004], [7.280, 0.080, 0.00062, 0.0003],
    [7.530, 0.080, 0.00053, 0.0002], [7.860, 0.120, 0.00068, 0.0002], [8.300, 0.150, 0.0010, 0.0002],
    [8.920, 0.200, 0.00062, 0.00015], [10.00, 0.400, 0.00049, 0.0001], [10.80, 0.200, 0.00019, 0.0001],
]

BLACK = '#000000'
RED = '#ff0000'
STAR = (6, 2, 0)

YLABELS = {10: '10', 1: '1', 0.1: '0.1', 0.01: '0.01', 0.001: '$10^{-3}$'}
XMINOR = [0.6, 0.7, 0.8, 0.9, 3, 4, 6, 7, 8, 9]


def draw_spectrum(ax, rows, color, marker=None):
    e, de, y, dy = np.array(rows, dtype=float).T
    lo = np.minimum(dy, y * 0.999)
    kw = dict(xerr=de, yerr=[lo, dy], ecolor=color, elinewidth=1.1, capsize=0, linestyle='none')
    if marker is None:
        ax.errorbar(e, y, fmt='none', **kw)
    else:
        ax.errorbar(e, y, marker=marker, color=color, ms=5, mew=1.1, **kw)


def style_axes(ax, xlim, ylim, xmajor, name, name_pos):
    ax.set_xscale('log')
    ax.set_yscale('log')
    ax.set_xlim(*xlim)
    ax.set_ylim(*ylim)

    ax.xaxis.set_major_locator(FixedLocator(xmajor))
    ax.xaxis.set_major_formatter(FixedFormatter([f'{v:g}' for v in xmajor]))
    ax.xaxis.set_minor_locator(FixedLocator([v for v in XMINOR if xlim[0] < v < xlim[1]]))
    ax.xaxis.set_minor_formatter(NullFormatter())

    ymajor = [v for v in YLABELS if ylim[0] <= v <= ylim[1]]
    ax.yaxis.set_major_locator(FixedLocator(ymajor))
    ax.yaxis.set_major_formatter(FixedFormatter([YLABELS[v] for v in ymajor]))
    ax.yaxis.set_minor_locator(LogLocator(base=10, subs=np.arange(2, 10), numticks=50))
    ax.yaxis.set_minor_formatter(NullFormatter())

    ax.tick_params(which='both', direction='in', top=True, right=True, color='#333333', width=1.0)
    ax.tick_params(which='major', length=8.5, labelsize=16.5, pad=8)
    ax.tick_params(which='minor', length=5)
    for sp in ax.spines.values():
        sp.set_linewidth(1.1)
        sp.set_color('#444444')

    ax.set_xlabel('Energy (keV)', fontsize=17, labelpad=5)
    ax.set_ylabel('normalized counts s$^{-1}$ keV$^{-1}$', fontsize=17, labelpad=12)
    ax.text(name_pos[0], name_pos[1], name, transform=ax.transAxes, ha='right', va='center',
            fontsize=24, family='Liberation Serif', color='#222222')

    for lab in ax.get_yticklabels():
        lab.set_rotation(90)
        lab.set_va('center')


fig = plt.figure(figsize=(12.27, 9.06), dpi=100)

panels = [
    ([0.0760, 0.5762, 0.4185, 0.4202], (0.403, 5.81), (2.2e-4, 0.154), [0.5, 1, 2, 5],
     'NGC 4438', (0.92, 0.885), (n4438_src_blk, n4438_src_red, n4438_bkg_blk, n4438_bkg_red)),
    ([0.5760, 0.5762, 0.4183, 0.4208], (0.404, 6.96), (4.1e-4, 0.381), [0.5, 1, 2, 5],
     'NGC 3079', (0.92, 0.882), (n3079_src_blk, n3079_src_red, n3079_bkg_blk, n3079_bkg_red)),
    ([0.0760, 0.0787, 0.4189, 0.4213], (0.400, 9.91), (1.13e-4, 0.898), [0.5, 1, 2, 5],
     'NGC 4261', (0.914, 0.883), (n4261_src_blk, n4261_src_red, n4261_bkg_blk, n4261_bkg_red)),
    ([0.5746, 0.0780, 0.4110, 0.4121], (0.402, 10.98), (1.34e-4, 16.5), [0.5, 1, 2, 5, 10],
     'NGC 1068', (0.94, 0.904), (n1068_src_blk, n1068_src_red, n1068_bkg_blk, n1068_bkg_red)),
]

for rect, xlim, ylim, xmajor, name, pos, (src_k, src_r, bkg_k, bkg_r) in panels:
    ax = fig.add_axes(rect)
    draw_spectrum(ax, src_k, BLACK)
    draw_spectrum(ax, bkg_k, BLACK, STAR)
    draw_spectrum(ax, src_r, RED)
    draw_spectrum(ax, bkg_r, RED, STAR)
    style_axes(ax, xlim, ylim, xmajor, name, pos)

fig.savefig('out.png', dpi=100)
